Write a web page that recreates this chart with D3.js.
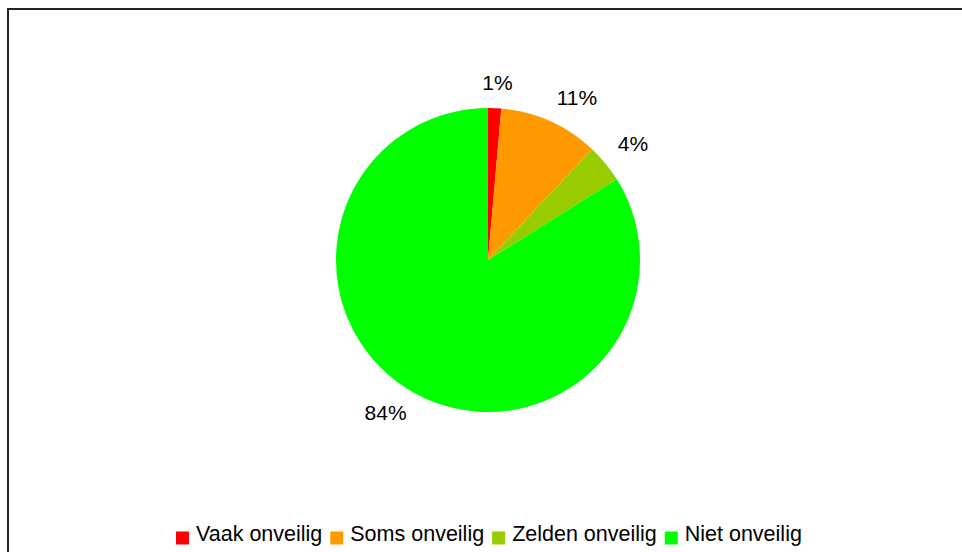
<!DOCTYPE html>
<html><head><meta charset="utf-8">
<script src="https://cdn.jsdelivr.net/npm/d3@7"></script>
<style>html,body{margin:0;padding:0;background:#fff;overflow:hidden}</style>
</head><body>
<svg id="chart" width="962" height="552"></svg>
<script>
const categories = ["Vaak onveilig", "Soms onveilig", "Zelden onveilig", "Niet onveilig"];
const values = [1.4, 10.6, 4.1, 83.9];
const labels = ["1%", "11%", "4%", "84%"];
const colors = ["#FF0000", "#FF9900", "#99CC00", "#00FF00"];

const FONT_FAMILY = "'Liberation Sans', Arial, sans-serif";
const svg = d3.select("#chart");
svg.append("rect").attr("x", 8).attr("y", 9).attr("width", 1100).attr("height", 700)
  .attr("fill", "#fff").attr("stroke", "#222").attr("stroke-width", 2);

const ctx = document.createElement("canvas").getContext("2d");
function textWidth(t, size) { ctx.font = size + "px " + FONT_FAMILY; return ctx.measureText(t).width; }

const cx = 488, cy = 260, r = 152;
const g = svg.append("g").attr("transform", `translate(${cx},${cy})`);
const pie = d3.pie().sort(null).value(d => d);
const arcs = pie(values);
const arc = d3.arc().innerRadius(0).outerRadius(r);
g.selectAll("path").data(arcs).join("path")
  .attr("d", arc).attr("fill", (d, i) => colors[i]);

// outside-end labels: nearest corner of the text box touches a point just outside the arc
const labelR = 168, labelSize = 21, halfH = 7.5;
const clamp = v => Math.max(-1, Math.min(1, v));
g.selectAll("text.lbl").data(arcs).join("text").attr("class", "lbl")
  .attr("transform", (d, i) => {
    const a = (d.startAngle + d.endAngle) / 2;
    const s = Math.sin(a), c = -Math.cos(a);
    const w = textWidth(labels[i], labelSize);
    const x = labelR * s + (w / 2) * clamp(s * 3);
    const y = labelR * c + halfH * clamp(c * 5);
    return `translate(${x},${y + halfH - 2})`;
  })
  .attr("text-anchor", "middle")
  .style("font-family", FONT_FAMILY).style("font-size", labelSize + "px")
  .attr("fill", "#000").text((d, i) => labels[i]);

// legend
const legendSize = 21.5;
const legend = svg.append("g").attr("transform", "translate(176,531.5)");
let x = 0;
categories.forEach((c, i) => {
  legend.append("rect").attr("x", x).attr("y", 0).attr("width", 13).attr("height", 13).attr("fill", colors[i]);
  legend.append("text").attr("x", x + 20).attr("y", 9.5)
    .style("font-family", FONT_FAMILY).style("font-size", legendSize + "px")
    .attr("fill", "#000").text(c);
  x += 20 + textWidth(c, legendSize) + 8;
});
</script>
</body></html>
